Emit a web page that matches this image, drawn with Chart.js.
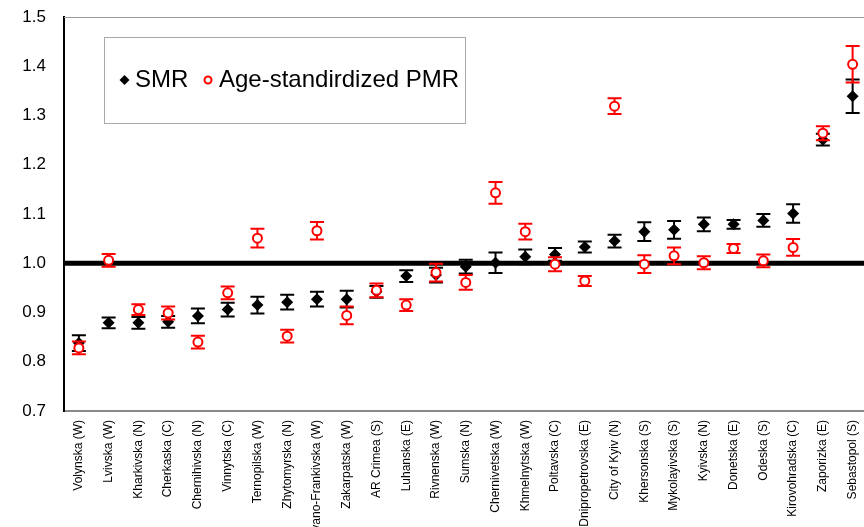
<!DOCTYPE html>
<html>
<head>
<meta charset="utf-8">
<script src="https://cdn.jsdelivr.net/npm/chart.js@4"></script>
<style>
  html, body { margin: 0; padding: 0; background: #fff; overflow: hidden; }
  #wrap { width: 874px; height: 527px; }
</style>
</head>
<body>
<div id="wrap"><canvas id="mycanvas" width="874" height="527"></canvas></div>
<script>
// regions, ordered by SMR
var regions = [
  "Volynska (W)", "Lvivska (W)", "Kharkivska (N)", "Cherkaska (C)", "Chernihivska (N)",
  "Vinnytska (C)", "Ternopilska (W)", "Zhytomyrska (N)", "Ivano-Frankivska (W)", "Zakarpatska (W)",
  "AR Crimea (S)", "Luhanska (E)", "Rivnenska (W)", "Sumska (N)", "Chernivetska (W)",
  "Khmelnytska (W)", "Poltavska (C)", "Dnipropetrovska (E)", "City of Kyiv (N)", "Khersonska (S)",
  "Mykolayivska (S)", "Kyivska (N)", "Donetska (E)", "Odeska (S)", "Kirovohradska (C)",
  "Zaporizka (E)", "Sebastopol (S)"
];

var smr = [0.838, 0.879, 0.879, 0.881, 0.893, 0.906, 0.915, 0.921, 0.927, 0.927,
           0.942, 0.974, 0.976, 0.993, 1.001, 1.013, 1.018, 1.033, 1.045, 1.064,
           1.068, 1.079, 1.079, 1.087, 1.101, 1.251, 1.339];
var smrErr = [0.016, 0.011, 0.012, 0.012, 0.015, 0.014, 0.017, 0.015, 0.015, 0.017,
              0.012, 0.012, 0.015, 0.014, 0.021, 0.015, 0.013, 0.011, 0.013, 0.019,
              0.018, 0.014, 0.009, 0.013, 0.019, 0.012, 0.034];

var pmr = [0.828, 1.006, 0.906, 0.899, 0.840, 0.940, 1.051, 0.852, 1.066, 0.894,
           0.945, 0.915, 0.981, 0.961, 1.143, 1.064, 0.998, 0.964, 1.319, 0.998,
           1.015, 1.001, 1.030, 1.005, 1.032, 1.264, 1.404];
var pmrErr = [0.013, 0.013, 0.011, 0.013, 0.013, 0.013, 0.019, 0.013, 0.018, 0.018,
              0.014, 0.012, 0.018, 0.015, 0.022, 0.016, 0.014, 0.010, 0.016, 0.018,
              0.017, 0.013, 0.009, 0.013, 0.017, 0.014, 0.037];

var yTicks = [0.7, 0.8, 0.9, 1.0, 1.1, 1.2, 1.3, 1.4, 1.5];
var refValue = 1.0;

var errors = [smrErr, pmrErr];

// error bars, reference line, frame and boxed legend
var extras = {
  id: 'extras',
  beforeDatasetsDraw: function(chart) {
    var ctx = chart.ctx, a = chart.chartArea, y = chart.scales.y;
    ctx.save();
    ctx.strokeStyle = '#999';
    ctx.lineWidth = 1;
    ctx.beginPath();
    ctx.moveTo(a.left, a.top + 0.5);
    ctx.lineTo(a.right, a.top + 0.5);
    ctx.stroke();
    var py = y.getPixelForValue(refValue);
    ctx.strokeStyle = '#000';
    ctx.lineWidth = 5;
    ctx.beginPath();
    ctx.moveTo(a.left, py);
    ctx.lineTo(a.right, py);
    ctx.stroke();
    ctx.restore();
  },
  beforeDatasetDraw: function(chart, args) {
    var ds = chart.data.datasets[args.index];
    var err = errors[args.index];
    var ctx = chart.ctx, x = chart.scales.x, y = chart.scales.y;
    ctx.save();
    ctx.strokeStyle = ds.borderColor;
    ctx.lineWidth = 2;
    for (var i = 0; i < ds.data.length; i++) {
      var px = x.getPixelForValue(i);
      var hi = y.getPixelForValue(ds.data[i] + err[i]);
      var lo = y.getPixelForValue(ds.data[i] - err[i]);
      ctx.beginPath();
      ctx.moveTo(px, hi); ctx.lineTo(px, lo);
      ctx.moveTo(px - 7, hi); ctx.lineTo(px + 7, hi);
      ctx.moveTo(px - 7, lo); ctx.lineTo(px + 7, lo);
      ctx.stroke();
    }
    ctx.restore();
  },
  afterDraw: function(chart) {
    var ctx = chart.ctx;
    ctx.save();
    ctx.fillStyle = '#fff';
    ctx.fillRect(104, 37, 362, 86);
    ctx.strokeStyle = '#aaa';
    ctx.lineWidth = 1;
    ctx.strokeRect(104.5, 37.5, 361, 86);
    // SMR marker
    ctx.fillStyle = '#000';
    ctx.beginPath();
    ctx.moveTo(124.5, 75); ctx.lineTo(129.5, 80); ctx.lineTo(124.5, 85); ctx.lineTo(119.5, 80);
    ctx.closePath();
    ctx.fill();
    ctx.font = '24px "Liberation Sans", Arial, sans-serif';
    ctx.textBaseline = 'middle';
    ctx.fillText('SMR', 135, 80);
    // PMR marker
    ctx.strokeStyle = '#f00';
    ctx.lineWidth = 2;
    ctx.beginPath();
    ctx.arc(208, 80, 3.5, 0, Math.PI * 2);
    ctx.stroke();
    ctx.fillStyle = '#000';
    ctx.fillText('Age-standirdized PMR', 219, 80);
    ctx.restore();
  }
};

var chartdata = {
  labels: regions,
  datasets: [
    {
      label: 'SMR',
      data: smr,
      showLine: false,
      pointStyle: 'rectRot',
      pointRadius: 6,
      pointBorderWidth: 0,
      backgroundColor: '#000',
      borderColor: '#000',
      order: 2
    },
    {
      label: 'Age-standirdized PMR',
      data: pmr,
      showLine: false,
      pointStyle: 'circle',
      pointRadius: 4.5,
      pointBorderWidth: 2,
      backgroundColor: '#fff',
      borderColor: '#f00',
      order: 1
    }
  ]
};

var ctx = document.getElementById('mycanvas');
var LineGraph = new Chart(ctx, {
  type: 'line',
  data: chartdata,
  plugins: [extras],
  options: {
    responsive: false,
    animation: false,
    layout: { padding: { top: 17, right: 1, left: 0, bottom: 0 } },
    plugins: { legend: { display: false }, tooltip: { enabled: false } },
    scales: {
      x: {
        offset: true,
        grid: { display: false, drawTicks: false },
        border: { display: true, color: '#888', width: 2 },
        ticks: {
          autoSkip: false,
          minRotation: 90,
          maxRotation: 90,
          padding: 9,
          color: '#000',
          font: { family: '"Liberation Sans", Arial, sans-serif', size: 12 }
        },
        afterFit: function(scale) {
          scale.height = 116;
          scale.paddingLeft = 0;
          scale.paddingRight = 0;
        }
      },
      y: {
        min: 0.7,
        max: 1.5,
        afterBuildTicks: function(scale) {
          scale.ticks = yTicks.map(function(v) { return { value: v }; });
        },
        grid: { display: false, drawTicks: false },
        border: { display: true, color: '#000', width: 2 },
        ticks: {
          padding: 18,
          color: '#000',
          font: { family: '"Liberation Sans", Arial, sans-serif', size: 17 },
          callback: function(v) { return v.toFixed(1); }
        },
        afterFit: function(scale) {
          scale.width = 64;
          scale.paddingTop = 0;
          scale.paddingBottom = 0;
        }
      }
    }
  }
});
</script>
</body>
</html>
